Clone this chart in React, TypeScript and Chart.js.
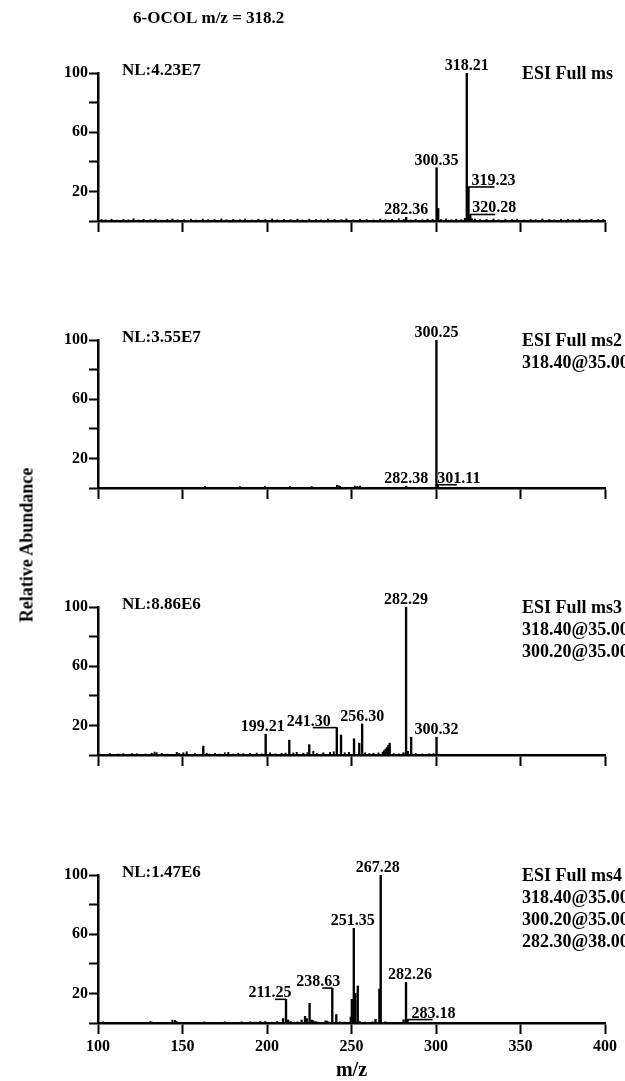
import React, { useEffect, useRef } from 'react';
import { Chart, registerables } from 'chart.js';

Chart.register(...registerables);

const SERIF = "'Liberation Serif', 'Times New Roman', serif";

// ---------- axes ----------
const MZ_MIN = 100;
const MZ_MAX = 400;
const X_TICKS = [100, 150, 200, 250, 300, 350, 400];
const Y_TICKS = [0, 20, 40, 60, 80, 100];
const Y_LABELED = [20, 60, 100];

// ---------- panel 1: ESI Full ms ----------
const p1Peaks: [number, number][] = [
  [282.36, 2.5], [300.35, 36], [301.3, 8.5], [317.2, 1.8], [318.21, 100],
  [319.23, 23], [320.28, 4.4], [321.3, 1.5],
];
const p1Noise: [number, number][] = [
  [102, 1], [104.5, 0.8], [108, 1.2], [111, 0.6], [115, 1], [118, 0.8], [121, 1.5], [124, 0.7],
  [127, 1.1], [131, 0.9], [134, 1.3], [137, 0.6], [141, 1], [144, 1.4], [147, 0.8], [151, 1],
  [155, 1.2], [158, 0.7], [162, 1.3], [165, 0.9], [169, 1], [173, 1.5], [176, 0.8], [180, 1.1],
  [184, 0.9], [187, 1.3], [191, 0.7], [195, 1.2], [199, 1], [203, 1.4], [206, 0.8], [210, 1.1],
  [214, 0.9], [218, 1.3], [221, 0.7], [225, 1.2], [229, 1], [232, 0.8], [236, 1.3], [240, 1.1],
  [244, 0.9], [247, 1.4], [251, 0.8], [255, 1.2], [259, 1], [263, 0.7], [267, 1.3], [270, 0.9],
  [274, 1.1], [278, 1.5], [281, 1], [285, 0.8], [288, 1.2], [292, 0.9], [295, 1.3], [298, 1.1],
  [303, 1], [306, 1.4], [309, 0.8], [312, 1.2], [315, 1], [323, 1.3], [326, 0.9], [330, 1.1],
  [334, 1.4], [337, 0.8], [341, 1.2], [345, 1], [348, 1.3], [352, 0.7], [356, 1.1], [359, 0.9],
  [363, 1.4], [367, 1], [370, 0.8], [374, 1.2], [378, 1.1], [381, 0.9], [385, 1.3], [389, 0.8],
  [392, 1.2], [396, 1], [399, 1.1],
];
const p1LabelMz = [318.21, 300.35, 282.36, 319.23, 320.28];
const p1NL = 'NL:4.23E7';
const p1Info = ['ESI Full ms'];

// ---------- panel 2: ESI Full ms2 ----------
const p2Peaks: [number, number][] = [[282.38, 1.2], [300.25, 100], [301.11, 2.2]];
const p2Noise: [number, number][] = [
  [163.3, 1], [184, 0.9], [198.8, 1], [213.6, 0.9], [226.4, 1], [241.4, 1.8], [242.4, 1.5],
  [243.2, 1.2], [252, 1.4], [253.5, 1.1], [255, 1.3],
];
const p2LabelMz = [300.25, 282.38, 301.11];
const p2NL = 'NL:3.55E7';
const p2Info = ['ESI Full ms2', '318.40@35.00'];

// ---------- panel 3: ESI Full ms3 ----------
const p3Peaks: [number, number][] = [
  [162.3, 6], [199.21, 14], [213.2, 10], [225, 7], [241.3, 18.5], [243.8, 13.5], [251.5, 11],
  [254.6, 8], [256.3, 21], [268.6, 2], [269.4, 3], [270.2, 4], [271, 5], [271.8, 6.5],
  [272.6, 8], [280.8, 1.5], [282.29, 100], [283.3, 2.5], [285.3, 12], [300.32, 12],
];
const p3Noise: [number, number][] = [
  [107, 1], [112, 0.7], [115, 0.9], [120, 1], [123, 0.8], [128, 0.7], [131.8, 1.2], [133.5, 2],
  [134.7, 1.6], [137.7, 1.1], [141, 0.7], [146.6, 1.8], [148, 1.2], [150.5, 1.5], [152.5, 2.2],
  [157.4, 1], [164.3, 1.2], [166, 0.7], [169.2, 1.1], [172, 0.6], [175.1, 1.5], [177.1, 1.8],
  [180, 0.7], [183, 1.2], [186, 0.9], [190, 1.1], [193.9, 1.3], [196.9, 0.8], [201.8, 1.5],
  [205, 0.8], [208.7, 1.1], [211, 1.3], [215.6, 1.4], [217.6, 1.8], [221.5, 1.2], [224, 1.6],
  [227.4, 2.5], [229.5, 1.2], [233.3, 1.5], [237.3, 1.8], [239.5, 2.2], [246, 1.5], [248.5, 1.8],
  [258, 1.4], [260.5, 1], [263, 1.2], [266, 1.5], [275, 1], [278, 0.8], [288, 1], [292, 0.7],
  [296, 0.8], [298.5, 1],
];
const p3LabelMz = [282.29, 199.21, 241.3, 256.3, 300.32];
const p3NL = 'NL:8.86E6';
const p3Info = ['ESI Full ms3', '318.40@35.00', '300.20@35.00'];

// ---------- panel 4: ESI Full ms4 ----------
const p4Peaks: [number, number][] = [
  [209.5, 3], [211.25, 16], [212.5, 2], [220.5, 2], [222.5, 4.5], [223.5, 3], [225.2, 13.3],
  [226.5, 2], [238.63, 23.6], [241, 5.7], [249.6, 4], [250.2, 16], [251.35, 64], [252.3, 20],
  [253.7, 25], [264.2, 2.5], [266.5, 23], [267.28, 100], [280.8, 2.2], [282.26, 27.5],
  [283.18, 2.3],
];
const p4Noise: [number, number][] = [
  [103, 0.8], [131, 1], [132, 0.6], [144, 2], [145.5, 1.8], [146.5, 1], [163, 0.8], [175, 0.8],
  [185, 0.8], [190, 0.8], [193, 0.6], [196, 1], [199, 1], [203, 0.6], [206, 1], [214, 1],
  [216, 0.6], [218, 0.8], [227.5, 1.5], [228.8, 1], [230, 0.6], [234.5, 1.5], [235.5, 1.3],
  [236.5, 0.8], [243, 0.8], [246, 0.6], [255, 1], [258, 0.6], [262.5, 0.8], [270, 0.8],
  [272, 0.5], [285.5, 0.5], [290, 0.4], [295, 0.3],
];
const p4LabelMz = [267.28, 251.35, 282.26, 238.63, 211.25, 283.18];
const p4NL = 'NL:1.47E6';
const p4Info = ['ESI Full ms4', '318.40@35.00', '300.20@35.00', '282.30@38.00'];

const TITLE = '6-OCOL m/z = 318.2';
const Y_TITLE = 'Relative Abundance';
const X_TITLE = 'm/z';

// ---------- label placement (px offsets, not data) ----------
type Place = { dx?: number; leader?: number };
const p1Place: Place[] = [{ dx: 0 }, { dx: 0 }, { dx: 0 }, { dx: 25, leader: 26 }, { dx: 24, leader: 25 }];
const p2Place: Place[] = [{ dx: 0 }, { dx: 0 }, { dx: 21, leader: 19 }];
const p3Place: Place[] = [{ dx: 0 }, { dx: -3 }, { dx: -28, leader: -24 }, { dx: 0 }, { dx: 0 }];
const p4Place: Place[] = [{ dx: -3 }, { dx: -1 }, { dx: 4 }, { dx: -14, leader: -10 }, { dx: -16, leader: -11 }, { dx: 26, leader: 25 }];

type PanelDef = {
  peaks: [number, number][];
  noise: [number, number][];
  labelMz: number[];
  place: Place[];
  nl: string;
  info: string[];
  plotTop: number; // page y of value 100
  padTop: number;
  padBottom: number;
  showX: boolean;
  title?: string;
};

const PLOT_H = 148;
const PLOT_LEFT = 98;
const PLOT_RIGHT = 605;
const W = 625;

const PANELS: PanelDef[] = [
  { peaks: p1Peaks, noise: p1Noise, labelMz: p1LabelMz, place: p1Place, nl: p1NL, info: p1Info, plotTop: 73, padTop: 73, padBottom: 30, showX: false, title: TITLE },
  { peaks: p2Peaks, noise: p2Noise, labelMz: p2LabelMz, place: p2Place, nl: p2NL, info: p2Info, plotTop: 340, padTop: 60, padBottom: 30, showX: false },
  { peaks: p3Peaks, noise: p3Noise, labelMz: p3LabelMz, place: p3Place, nl: p3NL, info: p3Info, plotTop: 607, padTop: 60, padBottom: 30, showX: false },
  { peaks: p4Peaks, noise: p4Noise, labelMz: p4LabelMz, place: p4Place, nl: p4NL, info: p4Info, plotTop: 875, padTop: 50, padBottom: 60, showX: true },
];

function nearestIntensity(peaks: [number, number][], mz: number) {
  let best = peaks[0];
  for (const p of peaks) if (Math.abs(p[0] - mz) < Math.abs(best[0] - mz)) best = p;
  return best[1];
}

const annotPlugin = {
  id: 'annot',
  afterDatasetsDraw(chart: any, _args: any, opts: any) {
    const { ctx, chartArea, scales } = chart;
    const x = scales.x;
    const y = scales.y;
    ctx.save();
    ctx.fillStyle = '#000';
    ctx.strokeStyle = '#000';
    ctx.font = `bold 16px ${SERIF}`;
    ctx.textAlign = 'center';
    ctx.textBaseline = 'alphabetic';
    (opts.labels || []).forEach((l: any) => {
      const px = x.getPixelForValue(l.mz);
      const py = y.getPixelForValue(l.h);
      if (l.leader) {
        ctx.lineWidth = 1.6;
        ctx.beginPath();
        ctx.moveTo(px, py);
        ctx.lineTo(px + l.leader, py);
        ctx.stroke();
        ctx.fillText(l.text, px + (l.dx || 0), py - 2);
      } else {
        ctx.fillText(l.text, px + (l.dx || 0), py - 3);
      }
    });
    ctx.font = `bold 17px ${SERIF}`;
    ctx.textAlign = 'left';
    ctx.textBaseline = 'middle';
    ctx.fillText(opts.nl, chartArea.left + 24, chartArea.top - 2);
    ctx.font = `bold 18px ${SERIF}`;
    (opts.info || []).forEach((t: string, i: number) => {
      ctx.fillText(t, 522, chartArea.top + 1 + 22 * i);
    });
    if (opts.title) {
      ctx.font = `bold 17px ${SERIF}`;
      ctx.fillText(opts.title, 133, 19);
    }
    ctx.restore();
  },
};

function Panel({ def }: { def: PanelDef }) {
  const ref = useRef<HTMLCanvasElement | null>(null);
  const H = def.padTop + PLOT_H + def.padBottom;
  const top = def.plotTop - def.padTop;

  useEffect(() => {
    if (!ref.current) return;
    const labels = def.labelMz.map((mz, i) => ({
      mz,
      h: nearestIntensity(def.peaks, mz),
      text: mz.toFixed(2),
      ...def.place[i],
    }));
    const chart = new Chart(ref.current, {
      type: 'bar',
      data: {
        datasets: [
          {
            data: def.noise.map(([m, v]) => ({ x: m, y: v })),
            backgroundColor: '#000',
            borderWidth: 0,
            barThickness: 1.3,
            grouped: false,
          } as any,
          {
            data: def.peaks.map(([m, v]) => ({ x: m, y: v })),
            backgroundColor: '#000',
            borderWidth: 0,
            barThickness: 1.7,
            grouped: false,
          } as any,
        ],
      },
      options: {
        responsive: false,
        animation: false,
        events: [],
        devicePixelRatio: 1,
        layout: {
          padding: { left: PLOT_LEFT - 60, right: W - PLOT_RIGHT, top: def.padTop, bottom: 0 },
        },
        plugins: {
          legend: { display: false },
          tooltip: { enabled: false },
          annot: { labels, nl: def.nl, info: def.info, title: def.title },
        } as any,
        scales: {
          x: {
            type: 'linear',
            min: MZ_MIN,
            max: MZ_MAX,
            offset: false,
            afterBuildTicks: (s: any) => { s.ticks = X_TICKS.map((v) => ({ value: v })); },
            afterFit: (s: any) => { s.height = def.padBottom; },
            grid: { display: true, drawOnChartArea: false, drawTicks: true, tickLength: 11, tickWidth: 2, tickColor: '#000', offset: false },
            border: { display: true, color: '#000', width: 2.5 },
            ticks: {
              display: def.showX,
              autoSkip: false,
              maxRotation: 0,
              padding: 3,
              color: '#000',
              font: { family: SERIF, size: 16, weight: 'bold' },
              callback: (v: any) => String(v),
            },
            title: {
              display: def.showX,
              text: X_TITLE,
              color: '#000',
              font: { family: SERIF, size: 20, weight: 'bold' },
              padding: { top: 0, bottom: 0 },
            },
          },
          y: {
            type: 'linear',
            min: 0,
            max: 100,
            afterBuildTicks: (s: any) => { s.ticks = Y_TICKS.map((v) => ({ value: v })); },
            afterFit: (s: any) => { s.width = 60; },
            grid: { display: true, drawOnChartArea: false, drawTicks: true, tickLength: 9, tickWidth: 2, tickColor: '#000' },
            border: { display: true, color: '#000', width: 2.5 },
            ticks: {
              autoSkip: false,
              padding: 1,
              color: '#000',
              font: { family: SERIF, size: 16, weight: 'bold' },
              callback: (v: any) => (Y_LABELED.includes(Number(v)) ? String(v) : ''),
            },
          },
        },
      },
      plugins: [annotPlugin],
    } as any);
    return () => chart.destroy();
  }, [def]);

  return (
    <canvas
      ref={ref}
      width={W}
      height={H}
      style={{ position: 'absolute', left: 0, top, width: W, height: H, display: 'block' }}
    />
  );
}

export default function App() {
  return (
    <div style={{ position: 'absolute', left: 0, top: 0, width: W, height: 1081, overflow: 'hidden', background: '#fff' }}>
      {PANELS.map((p, i) => (
        <Panel key={i} def={p} />
      ))}
      <div
        style={{
          position: 'absolute',
          left: 27,
          top: 545,
          transform: 'translate(-50%, -50%) rotate(-90deg)',
          whiteSpace: 'nowrap',
          font: `bold 18px ${SERIF}`,
          color: '#000',
        }}
      >
        {Y_TITLE}
      </div>
    </div>
  );
}
